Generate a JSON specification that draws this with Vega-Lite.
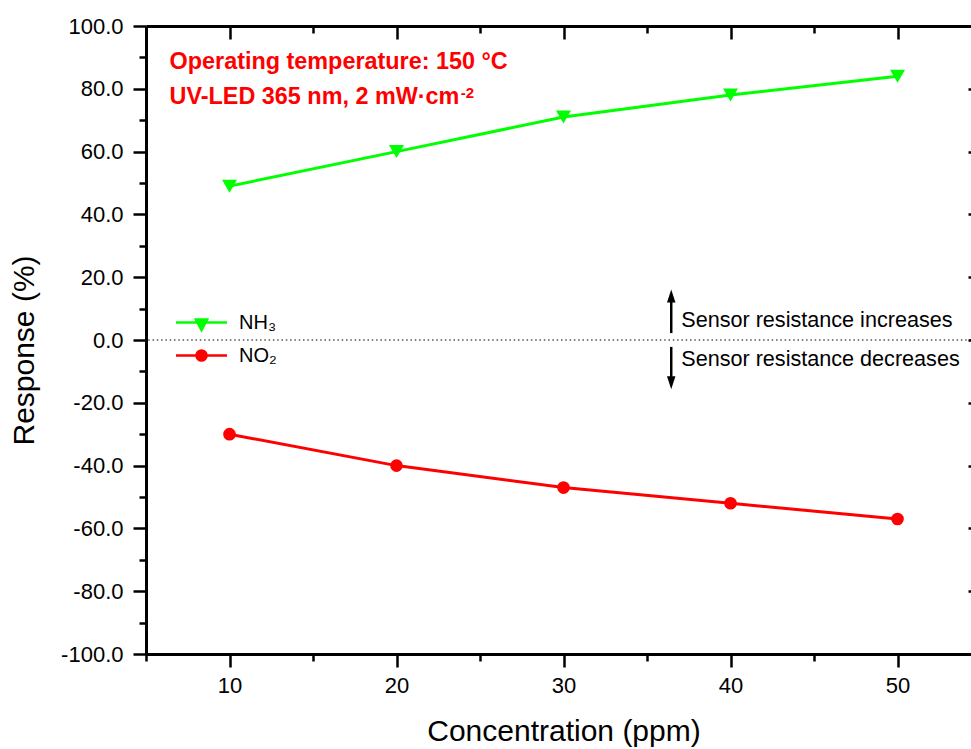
{
  "$schema": "https://vega.github.io/schema/vega-lite/v6.json",
  "width": 825,
  "height": 628,
  "autosize": "none",
  "padding": {"left": 146, "top": 26, "right": 0, "bottom": 95},
  "background": "white",
  "config": {
    "view": {"stroke": null},
    "font": "Liberation Sans",
    "axis": {
      "grid": false,
      "domainColor": "black",
      "domainWidth": 3,
      "tickColor": "black",
      "tickWidth": 2.5,
      "labelColor": "black",
      "labelFont": "Liberation Sans",
      "labelFontSize": 22,
      "titleColor": "black",
      "titleFont": "Liberation Sans",
      "titleFontSize": 30,
      "titleFontWeight": "normal"
    },
    "legend": {
      "title": null,
      "padding": 0,
      "symbolSize": 400,
      "symbolStrokeWidth": 2.6,
      "labelFontSize": 20,
      "labelOffset": 26,
      "rowPadding": 8,
      "labelFont": "Liberation Sans",
      "labelColor": "black",
      "labelBaseline": "middle"
    }
  },
  "data": {
    "values": [
      {"series": "NH₃", "c": 10, "r": 49},
      {"series": "NH₃", "c": 20, "r": 60},
      {"series": "NH₃", "c": 30, "r": 71},
      {"series": "NH₃", "c": 40, "r": 78},
      {"series": "NH₃", "c": 50, "r": 84},
      {"series": "NO₂", "c": 10, "r": -30},
      {"series": "NO₂", "c": 20, "r": -40},
      {"series": "NO₂", "c": 30, "r": -47},
      {"series": "NO₂", "c": 40, "r": -52},
      {"series": "NO₂", "c": 50, "r": -57}
    ]
  },
  "resolve": {"axis": {"x": "independent", "y": "independent"}},
  "layer": [
    {
      "transform": [{"filter": "datum.series === 'NH₃'"}],
      "mark": {"type": "line", "color": "#00ff00", "strokeWidth": 3},
      "encoding": {
        "x": {
          "field": "c", "type": "quantitative",
          "scale": {"domain": [5, 54.4], "nice": false, "zero": false},
          "axis": {
            "orient": "bottom",
            "values": [5, 10, 15, 20, 25, 30, 35, 40, 45, 50],
            "tickSize": {"condition": {"test": "datum.value % 10 === 0", "value": 13}, "value": 7},
            "labelExpr": "datum.value % 10 === 0 ? datum.label : ''",
            "labelPadding": 8,
            "title": "Concentration (ppm)",
            "titleX": 417.5,
            "titleY": 86,
            "titleAnchor": "middle",
            "titleAlign": "center",
            "titleBaseline": "alphabetic"
          }
        },
        "y": {
          "field": "r", "type": "quantitative",
          "scale": {"domain": [-100, 100], "nice": false, "zero": false},
          "axis": {
            "orient": "left",
            "values": [-100, -90, -80, -70, -60, -50, -40, -30, -20, -10, 0, 10, 20, 30, 40, 50, 60, 70, 80, 90, 100],
            "tickSize": {"condition": {"test": "datum.value % 20 === 0", "value": 13}, "value": 7},
            "labelExpr": "datum.value % 20 === 0 ? (datum.value < 0 ? '-' : '') + format(abs(datum.value), '.1f') : ''",
            "labelPadding": 10,
            "title": "Response (%)",
            "titleAngle": -90,
            "titleX": -113,
            "titleY": 324,
            "titleAlign": "center",
            "titleBaseline": "alphabetic"
          }
        }
      }
    },
    {
      "transform": [{"filter": "datum.series === 'NH₃'"}],
      "mark": {"type": "point", "shape": "triangle-down", "filled": true, "color": "#00ff00", "opacity": 1, "size": 225},
      "encoding": {
        "x": {
          "field": "c", "type": "quantitative",
          "scale": {"domain": [5, 54.4], "nice": false, "zero": false},
          "axis": {
            "orient": "top",
            "values": [5, 10, 15, 20, 25, 30, 35, 40, 45, 50],
            "tickSize": {"condition": {"test": "datum.value % 10 === 0", "value": -13}, "value": -7},
            "labels": false,
            "title": null
          }
        },
        "y": {
          "field": "r", "type": "quantitative",
          "scale": {"domain": [-100, 100], "nice": false, "zero": false},
          "axis": {
            "orient": "right",
            "domain": false,
            "values": [-80, -60, -40, -20, 0, 20, 40, 60, 80],
            "tickSize": -3,
            "labels": false,
            "title": null
          }
        }
      }
    },
    {
      "transform": [{"filter": "datum.series === 'NO₂'"}],
      "mark": {"type": "line", "color": "#ff0000", "strokeWidth": 3},
      "encoding": {
        "x": {"field": "c", "type": "quantitative", "scale": {"domain": [5, 54.4], "nice": false, "zero": false}, "axis": null},
        "y": {"field": "r", "type": "quantitative", "scale": {"domain": [-100, 100], "nice": false, "zero": false}, "axis": null}
      }
    },
    {
      "transform": [{"filter": "datum.series === 'NO₂'"}],
      "mark": {"type": "point", "shape": "circle", "filled": true, "color": "#ff0000", "opacity": 1, "size": 160},
      "encoding": {
        "x": {"field": "c", "type": "quantitative", "scale": {"domain": [5, 54.4], "nice": false, "zero": false}, "axis": null},
        "y": {"field": "r", "type": "quantitative", "scale": {"domain": [-100, 100], "nice": false, "zero": false}, "axis": null}
      }
    },
    {
      "data": {"values": [{}]},
      "mark": {"type": "rule", "color": "black", "strokeWidth": 1.2, "strokeDash": [1.5, 2.8]},
      "encoding": {
        "y": {"datum": 0, "type": "quantitative", "scale": {"domain": [-100, 100], "nice": false, "zero": false}, "axis": null}
      }
    },
    {
      "data": {"values": [
        {"x": 36.45, "y0": 2.2, "y1": 13},
        {"x": 36.45, "y0": -2.2, "y1": -12.5}
      ]},
      "mark": {"type": "rule", "color": "black", "strokeWidth": 2.5},
      "encoding": {
        "x": {"field": "x", "type": "quantitative", "scale": {"domain": [5, 54.4], "nice": false, "zero": false}, "axis": null},
        "y": {"field": "y0", "type": "quantitative", "scale": {"domain": [-100, 100], "nice": false, "zero": false}, "axis": null},
        "y2": {"field": "y1"}
      }
    },
    {
      "data": {"values": [{"x": 36.45, "y": 14.0}]},
      "mark": {"type": "point", "filled": true, "color": "black", "opacity": 1, "size": 169, "shape": "M0,-1L0.65,1L-0.65,1Z"},
      "encoding": {
        "x": {"field": "x", "type": "quantitative", "scale": {"domain": [5, 54.4], "nice": false, "zero": false}, "axis": null},
        "y": {"field": "y", "type": "quantitative", "scale": {"domain": [-100, 100], "nice": false, "zero": false}, "axis": null}
      }
    },
    {
      "data": {"values": [{"x": 36.45, "y": -13.6}]},
      "mark": {"type": "point", "filled": true, "color": "black", "opacity": 1, "size": 169, "shape": "M0,1L0.65,-1L-0.65,-1Z"},
      "encoding": {
        "x": {"field": "x", "type": "quantitative", "scale": {"domain": [5, 54.4], "nice": false, "zero": false}, "axis": null},
        "y": {"field": "y", "type": "quantitative", "scale": {"domain": [-100, 100], "nice": false, "zero": false}, "axis": null}
      }
    },
    {
      "data": {"values": [
        {"x": 37.05, "y": 4.2, "label": "Sensor resistance increases"},
        {"x": 37.05, "y": -8.3, "label": "Sensor resistance decreases"}
      ]},
      "mark": {"type": "text", "align": "left", "baseline": "alphabetic", "fontSize": 21.6, "color": "black", "font": "Liberation Sans"},
      "encoding": {
        "x": {"field": "x", "type": "quantitative", "scale": {"domain": [5, 54.4], "nice": false, "zero": false}, "axis": null},
        "y": {"field": "y", "type": "quantitative", "scale": {"domain": [-100, 100], "nice": false, "zero": false}, "axis": null},
        "text": {"field": "label"}
      }
    },
    {
      "data": {"values": [
        {"x": 6.41, "y": 86.2, "label": "Operating temperature: 150 °C"},
        {"x": 6.41, "y": 75.2, "label": "UV-LED 365 nm, 2 mW·cm"}
      ]},
      "mark": {"type": "text", "align": "left", "baseline": "alphabetic", "fontSize": 23.4, "fontWeight": "bold", "color": "#ff0000", "font": "Liberation Sans"},
      "encoding": {
        "x": {"field": "x", "type": "quantitative", "scale": {"domain": [5, 54.4], "nice": false, "zero": false}, "axis": null},
        "y": {"field": "y", "type": "quantitative", "scale": {"domain": [-100, 100], "nice": false, "zero": false}, "axis": null},
        "text": {"field": "label"}
      }
    },
    {
      "data": {"values": [{"x": 23.85, "y": 77.2, "label": "-2"}]},
      "mark": {"type": "text", "align": "left", "baseline": "alphabetic", "fontSize": 15, "fontWeight": "bold", "color": "#ff0000", "font": "Liberation Sans"},
      "encoding": {
        "x": {"field": "x", "type": "quantitative", "scale": {"domain": [5, 54.4], "nice": false, "zero": false}, "axis": null},
        "y": {"field": "y", "type": "quantitative", "scale": {"domain": [-100, 100], "nice": false, "zero": false}, "axis": null},
        "text": {"field": "label"}
      }
    },
    {
      "transform": [{"filter": "false"}],
      "mark": {"type": "point", "filled": true, "opacity": 1},
      "encoding": {
        "x": {"field": "c", "type": "quantitative", "scale": {"domain": [5, 54.4], "nice": false, "zero": false}, "axis": null},
        "y": {"field": "r", "type": "quantitative", "scale": {"domain": [-100, 100], "nice": false, "zero": false}, "axis": null},
        "color": {
          "field": "series", "type": "nominal",
          "scale": {"domain": ["NH₃", "NO₂"], "range": ["#00ff00", "#ff0000"]},
          "legend": {"orient": "none", "legendX": 44, "legendY": 285}
        },
        "stroke": {
          "field": "series", "type": "nominal",
          "scale": {"domain": ["NH₃", "NO₂"], "range": ["#00ff00", "#ff0000"]},
          "legend": {"orient": "none", "legendX": 44, "legendY": 285}
        },
        "shape": {
          "field": "series", "type": "nominal",
          "scale": {
            "domain": ["NH₃", "NO₂"],
            "range": [
              "M-2.55,0H2.55M-0.55,-0.3H0.55L0,0.75Z",
              "M-2.55,0H2.55M-0.5,0A0.5,0.5 0 1,0 0.5,0A0.5,0.5 0 1,0 -0.5,0Z"
            ]
          },
          "legend": {"orient": "none", "legendX": 44, "legendY": 285}
        }
      }
    }
  ]
}
